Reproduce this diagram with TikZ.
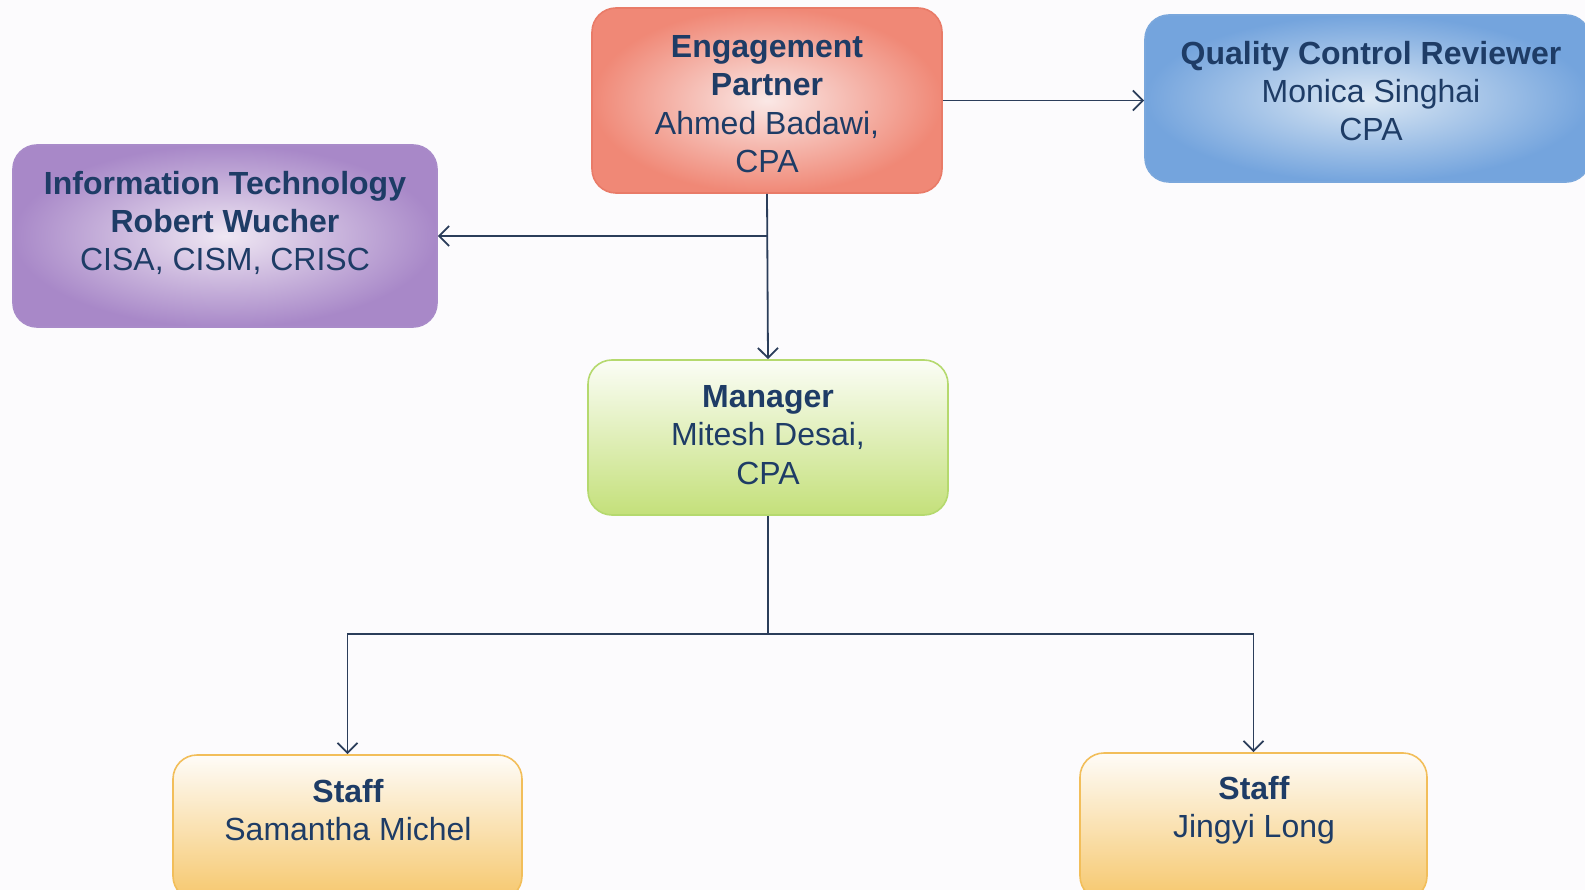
\documentclass[tikz,border=0pt]{standalone}
\usepackage{fontspec}
\setmainfont{Liberation Sans}
\usetikzlibrary{arrows.meta}
\definecolor{bg}{HTML}{FCFBFD}
\definecolor{txt}{HTML}{1E3C66}
\definecolor{ln}{HTML}{2B3D5A}
\definecolor{epin}{HTML}{FAE8E6}
\definecolor{epout}{HTML}{F08876}
\definecolor{epbd}{HTML}{E97B68}
\definecolor{qin}{HTML}{DCE8F4}
\definecolor{qout}{HTML}{74A4DD}
\definecolor{qbd}{HTML}{7AA7DC}
\definecolor{itin}{HTML}{EFE7F3}
\definecolor{itout}{HTML}{A888C8}
\definecolor{itbd}{HTML}{A98BC9}
\definecolor{mgtop}{HTML}{FBFDF6}
\definecolor{mgmid}{HTML}{EEF5D6}
\definecolor{mgbot}{HTML}{C4E07A}
\definecolor{mgbd}{HTML}{B5D96E}
\definecolor{sttop}{HTML}{FEFCF8}
\definecolor{stmid}{HTML}{FBEBCB}
\definecolor{stbot}{HTML}{F6C76C}
\definecolor{stbd}{HTML}{F2BE5A}
\tikzset{
  box/.style={rectangle, rounded corners=24pt, inner sep=0pt, line width=1.6pt},
  lbl/.style={align=center, text=txt, font=\fontsize{32}{38.4}\selectfont, inner sep=0pt},
  conn/.style={draw=ln, line width=1.8pt},
  arr/.style={conn, -{Straight Barb[length=10pt,width=20pt,line width=1.8pt]}}
}
\begin{document}
\begin{tikzpicture}[x=1pt,y=-1pt]
\fill[bg] (0,0) rectangle (1585,890);
\useasboundingbox (0,0) rectangle (1585,890);

\node[box, draw=epbd, inner color=epin, outer color=epout, minimum width=350pt, minimum height=185pt] (ep) at (767,100.5) {};
\node[box, draw=qbd, inner color=qin, outer color=qout, minimum width=445pt, minimum height=167pt] (qc) at (1367.5,98.5) {};
\node[box, draw=itbd, inner color=itin, outer color=itout, minimum width=424pt, minimum height=182pt] (it) at (225,236) {};
\node[box, draw=mgbd, top color=mgtop, middle color=mgmid, bottom color=mgbot, minimum width=360pt, minimum height=155pt] (mg) at (768,437.5) {};
\node[box, draw=stbd, top color=sttop, middle color=stmid, bottom color=stbot, minimum width=349pt, minimum height=145pt] (s1) at (347.5,827.5) {};
\node[box, draw=stbd, top color=sttop, middle color=stmid, bottom color=stbot, minimum width=347pt, minimum height=147pt] (s2) at (1253.5,826.5) {};

\node[lbl] (ept) at (767,104) {\textbf{Engagement}\\\textbf{Partner}\\Ahmed Badawi,\\CPA};
\node[lbl] (qct) at (1371,91) {\textbf{Quality Control Reviewer}\\Monica Singhai\\CPA};
\node[lbl] (itt) at (225,223) {\textbf{Information Technology}\\\textbf{Robert Wucher}\\CISA, CISM, CRISC};
\node[lbl] (mgt) at (768,435) {\textbf{Manager}\\Mitesh Desai,\\CPA};
\node[lbl] (s1t) at (348,810) {\textbf{Staff}\\Samantha Michel};
\node[lbl] (s2t) at (1254,810) {\textbf{Staff}\\Jingyi Long};

\draw[arr] (ep.east) -- (ep.east -| qc.west);
\draw[arr] (ep.south) -- (mg.north);
\draw[arr] (ep.south |- it.east) -- (it.east);
\coordinate (j) at (768,634);
\draw[conn] (mg.south) -- (j);
\draw[arr] (j) -| (s1.north);
\draw[arr] (j) -| (s2.north);
\end{tikzpicture}
\end{document}
